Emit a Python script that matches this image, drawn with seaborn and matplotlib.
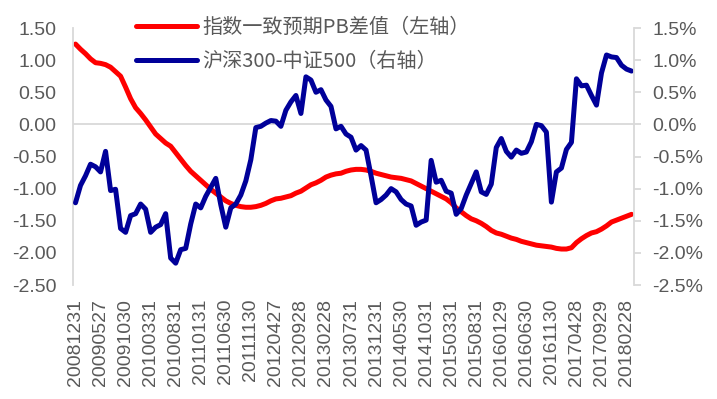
import numpy as np
import pandas as pd
import seaborn as sns
import matplotlib
matplotlib.use("Agg")
import matplotlib.pyplot as plt
from matplotlib.ticker import FuncFormatter

# monthly data, 2008-12 .. 2018-03
months = pd.period_range("2008-12", "2018-03", freq="M").strftime("%Y%m").tolist()

# tick labels shown every 5 months (last trading day of month)
tick_labels = ["20081231", "20090527", "20091030", "20100331", "20100831",
               "20110131", "20110630", "20111130", "20120427", "20120928",
               "20130228", "20130731", "20131231", "20140530", "20141031",
               "20150331", "20150831", "20160129", "20160630", "20161130",
               "20170428", "20170929", "20180228"]

# 指数一致预期PB差值 (left axis)
pb_diff = [1.25, 1.17, 1.10, 1.02, 0.96, 0.95, 0.93, 0.89, 0.82, 0.75,
           0.58, 0.40, 0.26, 0.17, 0.07, -0.04, -0.15, -0.22, -0.29, -0.34,
           -0.44, -0.54, -0.64, -0.73, -0.80, -0.87, -0.94, -1.01, -1.07, -1.13,
           -1.19, -1.23, -1.26, -1.28, -1.29, -1.29, -1.28, -1.26, -1.23, -1.19,
           -1.16, -1.15, -1.13, -1.11, -1.07, -1.04, -0.99, -0.94, -0.91, -0.87,
           -0.82, -0.79, -0.77, -0.76, -0.73, -0.71, -0.70, -0.70, -0.71, -0.73,
           -0.76, -0.78, -0.80, -0.82, -0.83, -0.84, -0.86, -0.88, -0.92, -0.96,
           -1.00, -1.04, -1.08, -1.12, -1.16, -1.22, -1.30, -1.36, -1.42, -1.47,
           -1.50, -1.54, -1.59, -1.65, -1.69, -1.71, -1.74, -1.77, -1.79, -1.82,
           -1.84, -1.86, -1.88, -1.89, -1.90, -1.91, -1.93, -1.94, -1.94, -1.92,
           -1.84, -1.78, -1.73, -1.69, -1.67, -1.63, -1.58, -1.52, -1.49, -1.46,
           -1.43, -1.40]

# 沪深300-中证500, % (right axis)
hs300_zz500 = [-1.22, -0.95, -0.80, -0.62, -0.66, -0.74, -0.42, -1.03, -1.01, -1.62,
               -1.68, -1.42, -1.39, -1.24, -1.32, -1.68, -1.60, -1.56, -1.39, -2.08,
               -2.16, -1.95, -1.93, -1.55, -1.24, -1.30, -1.12, -0.98, -0.84, -1.25,
               -1.60, -1.30, -1.24, -1.10, -0.88, -0.55, -0.05, -0.03, 0.02, 0.06,
               0.05, -0.03, 0.22, 0.35, 0.45, 0.17, 0.74, 0.69, 0.50, 0.54,
               0.38, 0.28, -0.07, -0.03, -0.15, -0.20, -0.40, -0.33, -0.40, -0.80,
               -1.22, -1.17, -1.10, -1.00, -1.05, -1.17, -1.24, -1.27, -1.57, -1.52,
               -1.49, -0.56, -0.90, -0.87, -1.04, -1.07, -1.40, -1.31, -1.10, -0.92,
               -0.74, -1.05, -1.09, -0.93, -0.36, -0.22, -0.42, -0.51, -0.40, -0.45,
               -0.43, -0.27, 0.00, -0.02, -0.12, -1.21, -0.74, -0.68, -0.39, -0.28,
               0.71, 0.60, 0.61, 0.45, 0.30, 0.80, 1.08, 1.05, 1.04, 0.92,
               0.86, 0.83]

sns.set_style("white")
plt.rcParams["font.family"] = ["Liberation Sans", "Noto Sans CJK SC", "DejaVu Sans"]

grey = "#595959"
light = "#D9D9D9"

x = np.arange(len(months))

fig = plt.figure(figsize=(7.17, 3.99), dpi=100)
ax = fig.add_axes([0.1018, 0.2857, 0.7825, 0.6441])
ax2 = ax.twinx()

sns.lineplot(x=x, y=pb_diff, ax=ax, color="#FF0000", linewidth=3.6,
             label="指数一致预期PB差值（左轴）", legend=False)
sns.lineplot(x=x, y=hs300_zz500, ax=ax2, color="#000099", linewidth=3.6,
             label="沪深300-中证500（右轴）", legend=False)

ax.axhline(0, color=light, linewidth=1.3, zorder=0)

ax.set_xlim(-0.5, len(months) - 0.5)
ax.set_ylim(-2.5, 1.5)
ax2.set_ylim(-2.5, 1.5)
ax.set_yticks(np.arange(-2.5, 1.51, 0.5))
ax2.set_yticks(np.arange(-2.5, 1.51, 0.5))
ax.yaxis.set_major_formatter(FuncFormatter(lambda v, p: f"{v:.2f}"))
ax2.yaxis.set_major_formatter(FuncFormatter(lambda v, p: f"{v:.1f}%"))

ax.set_xticks(x[::5])
ax.set_xticklabels(tick_labels, rotation=90)

for a in (ax, ax2):
    for s in a.spines.values():
        s.set_visible(False)
ax.spines["left"].set_visible(True)
ax.spines["left"].set_color(light)
ax.spines["left"].set_linewidth(1.3)
ax2.spines["right"].set_visible(True)
ax2.spines["right"].set_color(light)
ax2.spines["right"].set_linewidth(1.3)

ax.tick_params(axis="y", length=0, labelsize=14, labelcolor=grey, pad=12)
ax.tick_params(axis="x", length=0, labelsize=14, labelcolor=grey, pad=10)
ax2.tick_params(axis="y", length=5, width=1.3, color=light, labelsize=14,
                labelcolor=grey, pad=8)
ax.set_xlabel("")
ax.set_ylabel("")
ax2.set_ylabel("")

h1, l1 = ax.get_legend_handles_labels()
h2, l2 = ax2.get_legend_handles_labels()
leg = fig.legend(h1 + h2, l1 + l2, loc="upper left", bbox_to_anchor=(0.176, 0.982),
                 frameon=False, handlelength=3.0, handletextpad=0.3,
                 borderpad=0, labelspacing=0.62,
                 prop={"family": ["Noto Sans CJK SC", "DejaVu Sans"], "size": 14.5})
for t in leg.get_texts():
    t.set_color(grey)

fig.savefig("out.png", dpi=100)
